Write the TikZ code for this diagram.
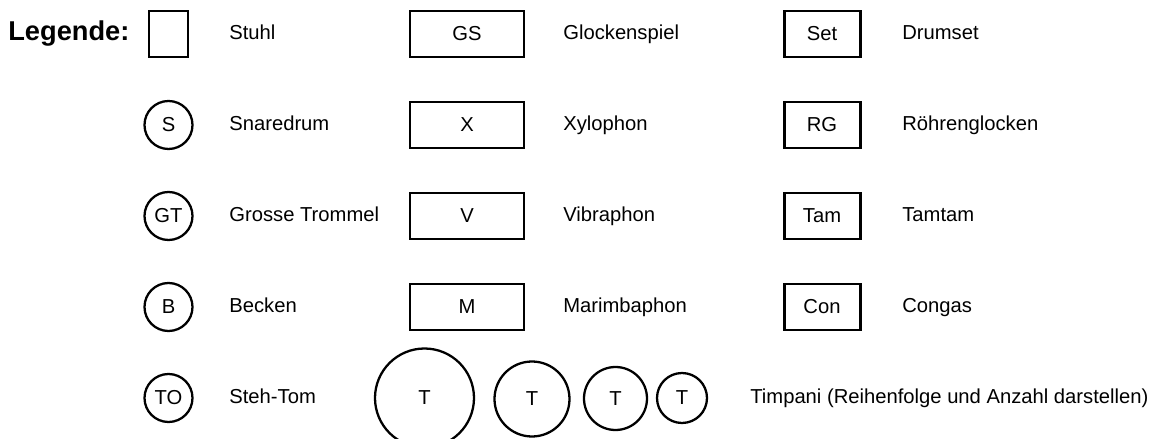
\documentclass[tikz,border=0pt]{standalone}
\usepackage{fontspec}
\setmainfont{Liberation Sans}

\begin{document}
\begin{tikzpicture}[node distance=1.82cm,font=\fontsize{11.5}{13.5}\selectfont]

  \tikzstyle{chair}=[rectangle,draw,line width=1.7pt,minimum width=7.8mm,minimum height=9.2mm]
  \tikzstyle{drum}=[circle,draw,line width=1.3pt,minimum size=9.6mm,inner sep=0pt]
  \tikzstyle{mallet}=[rectangle,draw,line width=1.7pt,minimum width=22.8mm,
  		      minimum height=9.2mm,inner sep=0pt]
  \tikzstyle{kit}=[mallet,minimum width=15.2mm]
  \tikzstyle{entry}=[anchor=west,inner sep=0pt,text height=1.6ex,text depth=.4ex]

  \clip (0,0) rectangle (23.14,-8.78);

  % columns for the names
  \coordinate (c2) at (4.58,0);
  \coordinate (c3) at (11.26,0);
  \coordinate (c4) at (18.04,0);
  \coordinate (c5) at (15.0,0);

  \node [entry,font=\fontsize{15.5}{18}\selectfont\bfseries]
                     (legende) at (0.16,-0.7) {Legende:};

  % first column
  \node [chair]      (stuhl) at (3.37,-0.68) {};
  \node [drum]       (snare) [below of=stuhl] {S};
  \node [drum]       (gt)    [below of=snare] {GT};
  \node [drum]       (becken)[below of=gt]    {B};
  \node [drum]       (tom)   [below of=becken]{TO};

  \node [entry] (l-stuhl)  at (stuhl -| c2)  {Stuhl};
  \node [entry] (l-snare)  at (snare -| c2)  {Snaredrum};
  \node [entry] (l-gt)     at (gt -| c2)     {Grosse Trommel};
  \node [entry] (l-becken) at (becken -| c2) {Becken};
  \node [entry] (l-tom)    at (tom -| c2)    {Steh-Tom};

  % second column
  \node [mallet]     (gs)    at (9.34,-0.68) {GS};
  \node [mallet]     (xylo)  [below of=gs]   {X};
  \node [mallet]     (vibra) [below of=xylo] {V};
  \node [mallet]     (marim) [below of=vibra]{M};

  \node [entry] (l-gs)    at (gs -| c3)    {Glockenspiel};
  \node [entry] (l-xylo)  at (xylo -| c3)  {Xylophon};
  \node [entry] (l-vibra) at (vibra -| c3) {Vibraphon};
  \node [entry] (l-marim) at (marim -| c3) {Marimbaphon};

  % third column
  \node [kit]        (set)   at (16.44,-0.68) {Set};
  \node [kit]        (rg)    [below of=set]  {RG};
  \node [kit]        (tam)   [below of=rg]   {Tam};
  \node [kit]        (con)   [below of=tam]  {Con};

  \node [entry] (l-set) at (set -| c4) {Drumset};
  \node [entry] (l-rg)  at (rg -| c4)  {Röhrenglocken};
  \node [entry] (l-tam) at (tam -| c4) {Tamtam};
  \node [entry] (l-con) at (con -| c4) {Congas};

  % timpani
  \node [drum,minimum size=19.8mm] (pauke1) at (8.49,-7.96)  {T};
  \node [drum,minimum size=15mm]   (pauke2) at (10.64,-7.98) {T};
  \node [drum,minimum size=12.6mm] (pauke3) at (12.31,-7.97) {T};
  \node [drum,minimum size=10mm]   (pauke4) at (13.64,-7.96) {T};

  \node [entry] (l-pauke) at (tom -| c5) {Timpani (Reihenfolge und Anzahl darstellen)};
\end{tikzpicture}
\end{document}
